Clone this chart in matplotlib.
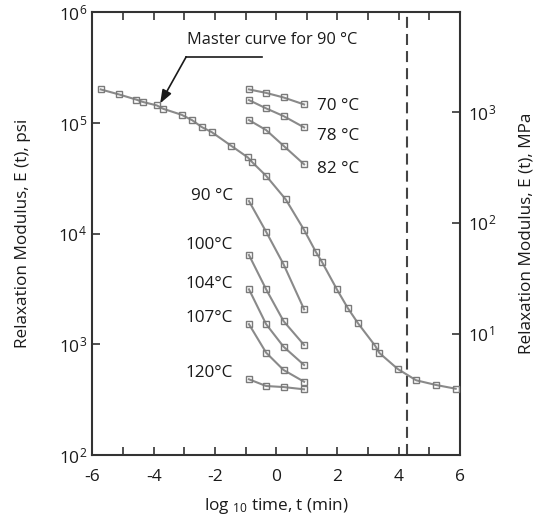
import numpy as np
import matplotlib
matplotlib.use("Agg")
import matplotlib.pyplot as plt
from matplotlib.ticker import FixedLocator, LogFormatterMathtext, NullLocator

plt.rcParams['font.family'] = ['Open Sans', 'DejaVu Sans']
plt.rcParams['mathtext.fontset'] = 'custom'
plt.rcParams['mathtext.rm'] = 'Open Sans'
plt.rcParams['mathtext.it'] = 'Open Sans:italic'
plt.rcParams['mathtext.default'] = 'regular'
plt.rcParams['axes.unicode_minus'] = False

# ---------------- data ----------------
master_logt = [-5.73, -5.13, -4.58, -4.34, -3.90, -3.69, -3.09, -2.74, -2.43, -2.11,
               -1.47, -0.93, -0.78, -0.33, 0.31, 0.91, 1.29, 1.49, 1.98, 2.33,
               2.67, 3.23, 3.37, 3.97, 4.57, 5.22, 5.86]
master_E = [201000, 181000, 163000, 154500, 144200, 134300, 118600, 105700, 91800, 82800,
            62200, 48900, 44100, 33300, 20400, 10800, 6870, 5570, 3140, 2140,
            1550, 970, 834, 598, 473, 429, 397]

temp_logt = [-0.89, -0.33, 0.24, 0.91]
temp_labels = ["70 °C", "78 °C", "82 °C", "90 °C", "100°C", "104°C", "107°C", "120°C"]
temp_E = [
    [201000, 187000, 170000, 147000],   # 70 C
    [161000, 135500, 115400, 91200],    # 78 C
    [106200, 86300, 62200, 42300],      # 82 C
    [19700, 10400, 5280, 2070],         # 90 C
    [6410, 3140, 1620, 986],            # 100 C
    [3140, 1520, 951, 650],             # 104 C
    [1520, 840, 586, 459],              # 107 C
    [483, 420, 411, 392],               # 120 C
]
label_logt = [1.34, 1.34, 1.34, -1.41, -1.41, -1.41, -1.41, -1.41]
label_E = [142000, 76200, 38400, 21900, 7890, 3510, 1740, 553]
label_align = ["left", "left", "left", "right", "right", "right", "right", "right"]

glass_logt = 4.27
xticks = [-6, -4, -2, 0, 2, 4, 6]
psi_per_mpa = 125.0   # as drawn on the right-hand scale

# ---------------- figure ----------------
fig = plt.figure(figsize=(5.45, 5.24), dpi=100)
ax = fig.add_axes([0.1697, 0.1317, 0.6743, 0.8448])

line_col = '#8a8a8a'
txt_col = '#1a1a1a'
fs = 12.3
mk = dict(marker='s', markersize=5, markerfacecolor='none',
          markeredgecolor='#7a7a7a', markeredgewidth=1.0)

ax.plot(master_logt, master_E, color=line_col, lw=1.5, **mk, zorder=3)
for E in temp_E:
    ax.plot(temp_logt, E, color=line_col, lw=1.5, **mk, zorder=3)

for lbl, x, y, ha in zip(temp_labels, label_logt, label_E, label_align):
    ax.text(x, y, lbl, ha=ha, va='center', fontsize=fs, color=txt_col)

ax.axvline(glass_logt, color='#444444', lw=1.5, ls=(0, (5.3, 2.9)), zorder=2)

# annotation
ax.text(-2.91, 10**5.749, "Master curve for 90 °C", ha='left', va='center',
        fontsize=11.8, color=txt_col)
ax.plot([-0.47, -2.94], [10**5.598, 10**5.598], color=txt_col, lw=1.2)
ax.annotate("", xy=(-3.79, 10**5.177), xytext=(-2.94, 10**5.598),
            arrowprops=dict(arrowstyle='-|>,head_length=0.8,head_width=0.3',
                            color=txt_col, lw=1.2, shrinkA=0, shrinkB=0))

ax.set_yscale('log')
ax.set_xlim(-6, 6)
ax.set_ylim(1e2, 1e6)

spine_col = '#333333'
for s in ax.spines.values():
    s.set_color(spine_col)
    s.set_linewidth(1.5)

ax.xaxis.set_major_locator(FixedLocator(xticks))
ax.xaxis.set_minor_locator(FixedLocator(list(range(-5, 6, 2))))
ax.yaxis.set_major_locator(FixedLocator([1e2, 1e3, 1e4, 1e5, 1e6]))
ax.yaxis.set_minor_locator(NullLocator())
ax.yaxis.set_major_formatter(LogFormatterMathtext())
ax.tick_params(axis='x', which='both', direction='in', top=True, length=6,
               width=1.2, color=spine_col, labelsize=12.5, pad=10, labelcolor=txt_col)
ax.tick_params(axis='y', which='both', direction='in', right=False, length=6,
               width=1.2, color=spine_col, labelsize=12.5, pad=4, labelcolor=txt_col)

ax2 = ax.twinx()
ax2.set_yscale('log')
ax2.set_ylim(1e2 / psi_per_mpa, 1e6 / psi_per_mpa)
ax2.yaxis.set_major_locator(FixedLocator([1e1, 1e2, 1e3]))
ax2.yaxis.set_minor_locator(NullLocator())
ax2.yaxis.set_major_formatter(LogFormatterMathtext())
ax2.tick_params(axis='y', which='both', direction='in', length=6, width=1.2,
                color=spine_col, labelsize=12.5, pad=6, labelcolor=txt_col)
for s in ax2.spines.values():
    s.set_visible(False)

ax.set_xlabel(r"log $_{10}$ time, t (min)", fontsize=fs, color=txt_col, labelpad=8)
ax.set_ylabel("Relaxation Modulus, E (t), psi", fontsize=fs, color=txt_col)
ax2.set_ylabel("Relaxation Modulus, E (t), MPa", fontsize=fs, color=txt_col)
ax.yaxis.label.set_va('center')
ax2.yaxis.label.set_va('center')
ax.yaxis.set_label_coords(-0.19, 0.5)
ax2.yaxis.set_label_coords(1.18, 0.5)

fig.savefig("out.png", dpi=100)
